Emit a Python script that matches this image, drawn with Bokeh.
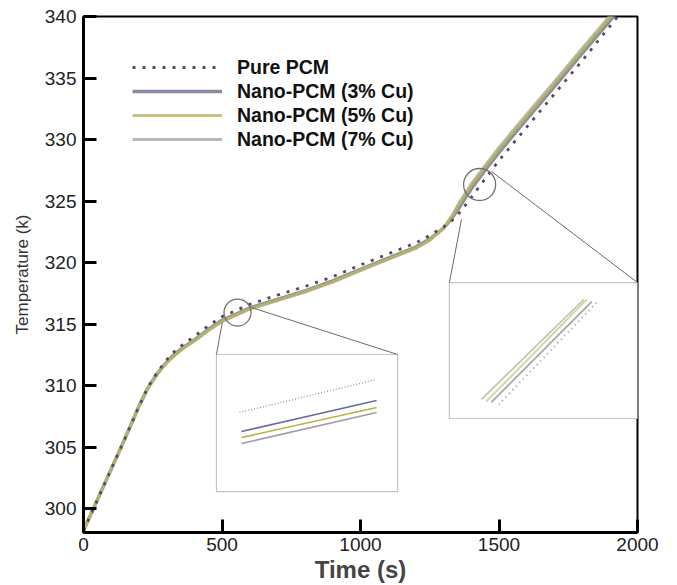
from bokeh.plotting import figure
from bokeh.models import Range1d, FixedTicker, Legend, LegendItem
from bokeh.embed import file_html
from bokeh.resources import INLINE

# ---------------- data ----------------
time_s = [0, 50, 100, 150, 200, 230, 250, 270, 290, 310, 330, 360, 400, 450,
          500, 600, 700, 800, 900, 1000, 1100, 1200, 1250, 1300, 1330, 1360,
          1400, 1450, 1500, 1600, 1700, 1800, 1900, 1960]

pure_pcm = [298.2, 300.7, 303.2, 305.7, 308.3, 309.75, 310.5, 311.2, 311.8,
            312.35, 312.8, 313.35, 314.0, 314.85, 315.6, 316.6, 317.35, 318.05,
            318.85, 319.8, 320.7, 321.6, 322.2, 322.9, 323.4, 324.1, 325.3,
            326.8, 328.3, 331.0, 333.7, 336.4, 339.2, 340.9]

nano_3 = [298.2, 300.7, 303.2, 305.7, 308.3, 309.7, 310.42, 311.08, 311.64,
          312.15, 312.55, 313.1, 313.7, 314.55, 315.3, 316.3, 317.0, 317.7,
          318.5, 319.45, 320.35, 321.25, 321.9, 322.8, 323.6, 324.6, 326.0,
          327.5, 328.95, 331.65, 334.3, 337.0, 339.65, 341.25]

nano_5 = [298.2, 300.7, 303.2, 305.7, 308.3, 309.7, 310.4, 311.05, 311.6,
          312.1, 312.5, 313.05, 313.65, 314.5, 315.25, 316.25, 316.95, 317.65,
          318.45, 319.4, 320.3, 321.2, 321.85, 322.8, 323.7, 324.8, 326.2,
          327.7, 329.15, 331.85, 334.5, 337.2, 339.85, 341.45]

nano_7 = [298.2, 300.7, 303.2, 305.7, 308.3, 309.7, 310.38, 311.02, 311.56,
          312.05, 312.45, 313.0, 313.6, 314.45, 315.2, 316.2, 316.9, 317.6,
          318.4, 319.35, 320.25, 321.15, 321.8, 322.8, 323.8, 325.0, 326.4,
          327.9, 329.35, 332.05, 334.7, 337.4, 340.05, 341.65]

series_labels = ["Pure PCM", "Nano-PCM (3% Cu)", "Nano-PCM (5% Cu)", "Nano-PCM (7% Cu)"]

x_ticks = [0, 500, 1000, 1500, 2000]
y_ticks = [300, 305, 310, 315, 320, 325, 330, 335, 340]

# zoom markers (circle centres, data units) and inset boxes (data units)
zoom_t = [556, 1430]
zoom_T = [315.93, 326.34]
zoom_size = [27, 32]
inset_left = [480, 1321]
inset_right = [1134, 2000]
inset_bottom = [301.38, 307.32]
inset_top = [312.52, 318.37]
# connector start points on the circles
conn_left_t = [501, 1364.6]
conn_left_T = [315.12, 323.5]
conn_right_t = [606.5, 1473]
conn_right_T = [316.34, 327.4]

# magnified segments inside the insets, as fractions of the inset box
mid_fx = {"pure": [0.127, 0.884], "n3": [0.138, 0.884], "n5": [0.138, 0.884], "n7": [0.138, 0.884]}
mid_fy = {"pure": [0.577, 0.818], "n3": [0.438, 0.664], "n5": [0.394, 0.613], "n7": [0.350, 0.577]}
up_fx = {"n7": [0.170, 0.714], "n5": [0.196, 0.730], "n3": [0.222, 0.757], "pure": [0.262, 0.783]}
up_fy = {"n7": [0.140, 0.875], "n5": [0.125, 0.875], "n3": [0.118, 0.860], "pure": [0.103, 0.853]}

FONT = "Liberation Sans"

p = figure(frame_width=554, frame_height=516,
           x_range=Range1d(0, 2000), y_range=Range1d(298.05, 340),
           output_backend="svg", toolbar_location=None,
           min_border_left=83, min_border_right=24, min_border_top=16,
           min_border_bottom=52)
p.background_fill_color = "white"
p.border_fill_color = "white"
p.xgrid.visible = False
p.ygrid.visible = False
p.outline_line_color = "black"
p.outline_line_width = 2

for ax in (p.xaxis[0], p.yaxis[0]):
    ax.axis_line_width = 3
    ax.axis_line_color = "black"
    ax.major_tick_line_width = 3
    ax.major_tick_line_color = "black"
    ax.major_tick_in = 13
    ax.major_tick_out = 0
    ax.minor_tick_line_color = None
    ax.major_label_text_font = FONT
    ax.major_label_text_font_size = "19px"
    ax.major_label_text_color = "#222222"

p.xaxis.ticker = FixedTicker(ticks=x_ticks)
p.yaxis.ticker = FixedTicker(ticks=y_ticks)
p.xaxis.major_label_standoff = 5
p.yaxis.major_label_standoff = 7
p.xaxis.axis_label = "Time (s)"
p.xaxis.axis_label_text_font = FONT
p.xaxis.axis_label_text_font_style = "bold"
p.xaxis.axis_label_text_font_size = "24px"
p.xaxis.axis_label_standoff = 2
p.yaxis.axis_label = "Temperature (k)"
p.yaxis.axis_label_text_font = FONT
p.yaxis.axis_label_text_font_style = "normal"
p.yaxis.axis_label_text_font_size = "17px"
p.yaxis.axis_label_standoff = 10
p.yaxis.axis_label_text_color = "#333333"

# main curves
r3 = p.line(time_s, nano_3, line_color="#8a8aa6", line_width=3.5)
r7 = p.line(time_s, nano_7, line_color="#b9b9b0", line_width=3)
r5 = p.line(time_s, nano_5, line_color="#b3af52", line_width=3)
r5.glyph.line_alpha = 0.75
rp = p.line(time_s, pure_pcm, line_color="#4e4e68", line_width=2.8, line_dash="3 7")

# insets
p.quad(left=inset_left, right=inset_right, bottom=inset_bottom, top=inset_top,
       fill_color="white", line_color="#c4c4c4", line_width=1.2)

def box_xy(i, fx, fy):
    xs = [inset_left[i] + f * (inset_right[i] - inset_left[i]) for f in fx]
    ys = [inset_bottom[i] + f * (inset_top[i] - inset_bottom[i]) for f in fy]
    return xs, ys

styles = {"pure": dict(line_color="#9292aa", line_width=1.3, line_dash="1 2"),
          "n3": dict(line_color="#6c6c9c", line_width=1.6),
          "n5": dict(line_color="#b9b242", line_width=1.6),
          "n7": dict(line_color="#9e9cab", line_width=1.6)}
for k in ["pure", "n3", "n5", "n7"]:
    xs, ys = box_xy(0, mid_fx[k], mid_fy[k])
    p.line(xs, ys, **styles[k])

styles_up = {"n7": dict(line_color="#c4c4ba", line_width=1.8),
             "n5": dict(line_color="#d2d28e", line_width=1.8),
             "n3": dict(line_color="#a4a4b4", line_width=1.8),
             "pure": dict(line_color="#8e8e9e", line_width=1.8, line_dash="1 4")}
for k in ["n7", "n5", "n3", "pure"]:
    xs, ys = box_xy(1, up_fx[k], up_fy[k])
    p.line(xs, ys, **styles_up[k])

# connectors and circles
for i in range(2):
    p.line([conn_left_t[i], inset_left[i]], [conn_left_T[i], inset_top[i]],
           line_color="#6a6a6a", line_width=1)
    p.line([conn_right_t[i], inset_right[i]], [conn_right_T[i], inset_top[i]],
           line_color="#6a6a6a", line_width=1)
p.scatter(zoom_t, zoom_T, marker="circle", size=zoom_size, fill_color=None,
          line_color="#707070", line_width=1.3)

legend = Legend(items=[LegendItem(label=series_labels[0], renderers=[rp]),
                       LegendItem(label=series_labels[1], renderers=[r3]),
                       LegendItem(label=series_labels[2], renderers=[r5]),
                       LegendItem(label=series_labels[3], renderers=[r7])],
                location=(49, 381), padding=0, margin=0, spacing=0,
                label_height=24, glyph_height=24, glyph_width=90,
                label_standoff=15, border_line_color=None,
                background_fill_alpha=0,
                label_text_font=FONT, label_text_font_style="bold",
                label_text_font_size="19.5px", label_text_color="#111111")
p.add_layout(legend)

open("out.html", "w").write(file_html(p, INLINE))
